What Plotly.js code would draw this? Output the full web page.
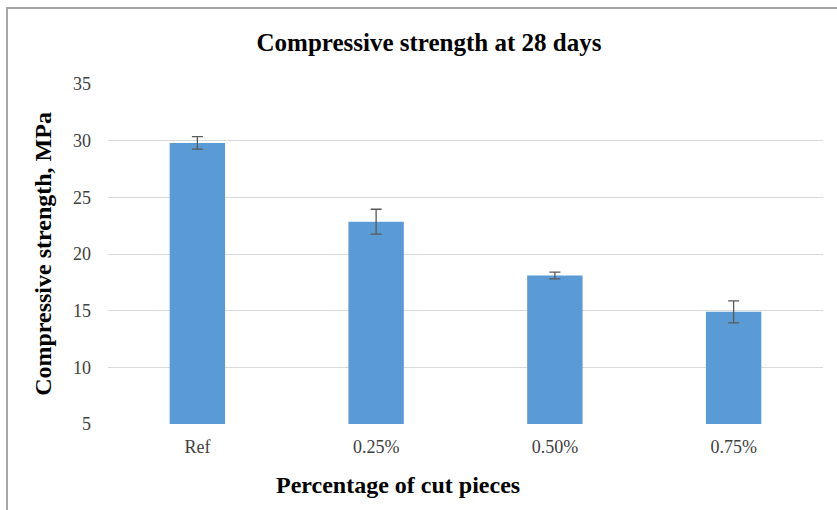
<!DOCTYPE html>
<html>
<head>
<meta charset="utf-8">
<script src="https://cdn.plot.ly/plotly-3.0.1.min.js"></script>
<style>
  html, body { margin: 0; padding: 0; background: #fff; }
  #chart { width: 837px; height: 510px; }
  #frame { position: absolute; left: 6px; top: 7px; width: 900px; height: 600px;
           border-left: 2px solid #a6a6a6; border-top: 2px solid #a6a6a6; pointer-events: none; }
</style>
</head>
<body>
<div id="chart"></div>
<div id="frame"></div>
<script>
const categories = ["Ref", "0.25%", "0.50%", "0.75%"];
const strength = [29.8, 22.85, 18.1, 14.9];
const errors = [0.55, 1.1, 0.3, 0.97];
const yTicks = [5, 10, 15, 20, 25, 30, 35];

const font = "'Liberation Serif', 'Times New Roman', serif";

Plotly.newPlot("chart", [{
  type: "bar",
  x: categories,
  y: strength,
  marker: { color: "#5b9bd5" },
  width: 0.31,
  error_y: { type: "data", array: errors, visible: true, color: "#595959", thickness: 1.3, width: 5.5 }
}], {
  width: 837, height: 510,
  margin: { l: 108, r: 14, t: 84, b: 86 },
  paper_bgcolor: "#fff", plot_bgcolor: "#fff",
  showlegend: false,
  title: { text: "<b>Compressive strength at 28 days</b>", x: 0.5125, xanchor: "center", y: 0.918, yanchor: "middle",
           font: { family: font, size: 25, color: "#000" } },
  xaxis: {
    type: "category",
    tickfont: { family: font, size: 18, color: "#404040" },
    ticklabelstandoff: 10,
    showline: false, showgrid: false, zeroline: false, ticks: ""
  },
  yaxis: {
    range: [5, 35],
    tickvals: yTicks,
    tickfont: { family: font, size: 18, color: "#404040" },
    ticklabelstandoff: 16,
    showgrid: true, gridcolor: "#d9d9d9", gridwidth: 1,
    zeroline: false, showline: false, ticks: "",
    title: { text: "<b>Compressive strength, MPa</b>", font: { family: font, size: 24, color: "#000" }, standoff: 14 }
  },
  annotations: [{
    text: "<b>Percentage of cut pieces</b>", xref: "paper", yref: "paper",
    x: 0.405, y: -0.179, xanchor: "center", yanchor: "middle", showarrow: false,
    font: { family: font, size: 24, color: "#000" }
  }],
  bargap: 0.69
}, { displayModeBar: false, staticPlot: true });
</script>
</body>
</html>
